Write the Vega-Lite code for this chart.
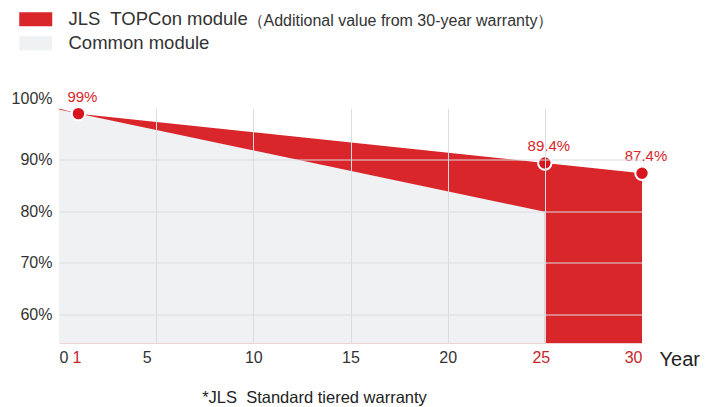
{
  "$schema": "https://vega.github.io/schema/vega-lite/v6.json",
  "autosize": {"type": "none"},
  "width": 583,
  "height": 234.5,
  "padding": {"left": 59, "top": 108.5, "right": 73, "bottom": 64},
  "config": {"font": "Liberation Sans", "view": {"stroke": null}},
  "title": {
    "text": "*JLS\u00a0 Standard tiered warranty",
    "orient": "bottom",
    "anchor": "middle",
    "frame": "group",
    "dx": -36,
    "offset": 20.5,
    "fontSize": 16.5,
    "fontWeight": "normal",
    "color": "#222222"
  },
  "data": {
    "values": [
      {"year": 0, "module": "JLS\u00a0 TOPCon module", "retention": 1.0},
      {"year": 1, "module": "JLS\u00a0 TOPCon module", "retention": 0.99},
      {"year": 25, "module": "JLS\u00a0 TOPCon module", "retention": 0.894},
      {"year": 30, "module": "JLS\u00a0 TOPCon module", "retention": 0.874},
      {"year": 0, "module": "Common module", "retention": 0.998},
      {"year": 25, "module": "Common module", "retention": 0.799}
    ]
  },
  "encoding": {
    "x": {
      "field": "year",
      "type": "quantitative",
      "scale": {"domain": [0, 30], "nice": false},
      "axis": {
        "values": [0, 1, 5, 10, 15, 20, 25, 30],
        "format": "d",
        "zindex": 1,
        "grid": true,
        "gridColor": "#dcdde1",
        "gridWidth": 1,
        "gridOpacity": {"condition": {"test": "datum.value < 2 || datum.value > 29", "value": 0}, "value": 1},
        "ticks": false,
        "domain": true,
        "domainColor": "#ecd3d4",
        "labelFontSize": 16,
        "labelPadding": 6,
        "labelColor": {"condition": {"test": "datum.value == 1 || datum.value == 25 || datum.value == 30", "value": "#c9252c"}, "value": "#333333"},
        "labelOffset": {"condition": [
          {"test": "datum.value == 5", "value": -9.5},
          {"test": "datum.value == 25", "value": -4},
          {"test": "datum.value == 1", "value": -2}
        ], "value": 0},
        "title": "Year",
        "titleX": 600,
        "titleY": 22,
        "titleAlign": "left",
        "titleBaseline": "alphabetic",
        "titleAnchor": null,
        "titleFontSize": 20,
        "titleFontWeight": "normal",
        "titleColor": "#222222"
      }
    },
    "y": {
      "field": "retention",
      "type": "quantitative",
      "scale": {"domain": [0.544, 1.0], "nice": false, "zero": false},
      "axis": {
        "values": [0.6, 0.7, 0.8, 0.9, 1.0],
        "format": ".0%",
        "zindex": 1,
        "grid": true,
        "gridColor": "#dcdde1",
        "gridWidth": 1,
        "gridOpacity": {"condition": {"test": "datum.value > 0.95", "value": 0}, "value": 1},
        "ticks": false,
        "domain": false,
        "labelFontSize": 16,
        "labelPadding": 7,
        "labelColor": "#333333",
        "labelOffset": {"condition": {"test": "datum.value > 0.95", "value": -10}, "value": 0},
        "title": "（Additional value from 30-year warranty）",
        "titleAngle": 0,
        "titleX": 188,
        "titleY": -83.5,
        "titleAlign": "left",
        "titleBaseline": "alphabetic",
        "titleAnchor": null,
        "titleFontSize": 16,
        "titleFontWeight": "normal",
        "titleColor": "#333333"
      }
    }
  },
  "layer": [
    {
      "transform": [{"filter": "datum.module != 'Common module'"}],
      "mark": {"type": "area", "opacity": 1, "clip": true},
      "encoding": {
        "color": {
          "field": "module",
          "type": "nominal",
          "scale": {"domain": ["JLS\u00a0 TOPCon module", "Common module"], "range": ["#d9262b", "#f0f1f3"]},
          "legend": {
            "orient": "none",
            "legendX": -32.5,
            "legendY": -98.5,
            "direction": "vertical",
            "title": null,
            "padding": 0,
            "symbolType": "M-2.357,-1H2.357V1H-2.357Z",
            "symbolSize": 196,
            "symbolStrokeWidth": 0,
            "symbolOpacity": 1,
            "labelFontSize": 18.5,
            "labelOffset": 23.5,
            "labelLimit": 400,
            "labelColor": "#333333",
            "rowPadding": 5
          }
        }
      }
    },
    {
      "transform": [{"filter": "datum.module == 'Common module'"}],
      "mark": {"type": "area", "opacity": 1, "clip": true},
      "encoding": {
        "color": {"field": "module", "type": "nominal"}
      }
    },
    {
      "transform": [{"filter": "datum.module != 'Common module' && datum.year > 0"}],
      "mark": {"type": "point", "filled": true, "size": 180, "color": "#d7151f", "stroke": "#ffffff", "strokeWidth": 2, "opacity": 1, "strokeOpacity": 1}
    },
    {
      "transform": [{"filter": "datum.module != 'Common module' && datum.year > 0"}],
      "mark": {"type": "text", "color": "#d9262b", "fontSize": 15, "dx": 4, "dy": -17, "baseline": "middle", "align": "center"},
      "encoding": {
        "text": {"field": "retention", "type": "quantitative", "format": ".1~%"}
      }
    }
  ]
}
